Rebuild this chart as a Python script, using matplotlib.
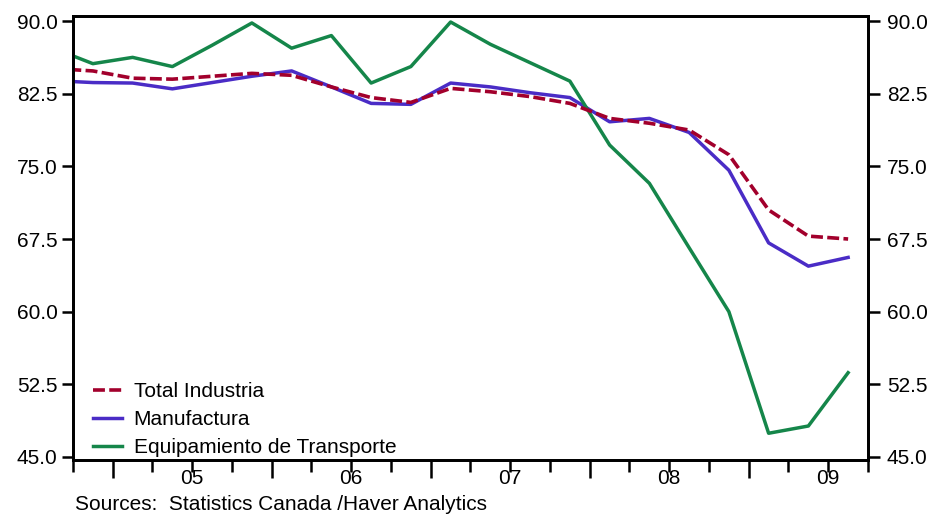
import matplotlib
matplotlib.use("Agg")
import matplotlib.pyplot as plt
from matplotlib.transforms import blended_transform_factory

plt.rcParams["font.family"] = ["Liberation Sans", "DejaVu Sans"]

# trimestres 2004T3 .. 2009T3 (el primero queda recortado por el eje)
trimestres = ["2004Q3", "2004Q4",
              "2005Q1", "2005Q2", "2005Q3", "2005Q4",
              "2006Q1", "2006Q2", "2006Q3", "2006Q4",
              "2007Q1", "2007Q2", "2007Q3", "2007Q4",
              "2008Q1", "2008Q2", "2008Q3", "2008Q4",
              "2009Q1", "2009Q2", "2009Q3"]

total_industria = [85.1, 84.85, 84.1, 84.0, 84.3, 84.6, 84.4, 83.2, 82.1, 81.6,
                   83.05, 82.7, 82.2, 81.5, 79.95, 79.45, 78.75, 76.2, 70.5, 67.8, 67.5]
manufactura = [83.85, 83.65, 83.6, 83.0, 83.65, 84.3, 84.85, 83.2, 81.5, 81.4,
               83.6, 83.2, 82.6, 82.1, 79.6, 79.95, 78.5, 74.6, 67.1, 64.7, 65.6]
equipamiento = [87.2, 85.6, 86.25, 85.3, 87.5, 89.8, 87.2, 88.5, 83.6, 85.3,
                89.9, 87.6, 85.7, 83.8, 77.2, 73.25, 66.6, 60.0, 47.45, 48.2, 53.7]

etiquetas_anio = ["05", "06", "07", "08", "09"]
anios = [2005, 2006, 2007, 2008, 2009]
yticks = [45.0, 52.5, 60.0, 67.5, 75.0, 82.5, 90.0]

x = [int(t[:4]) + (int(t[-1]) - 0.5) / 4 for t in trimestres]

rojo = "#a2002c"
azul = "#4a2cc6"
verde = "#15864a"

fig = plt.figure(figsize=(9.35, 5.15), dpi=100)
ax = fig.add_axes([73 / 935, 1 - 460 / 515, 795 / 935, 444 / 515])

ax.plot(x, total_industria, color=rojo, lw=2.6, dashes=(3.3, 1.2),
        label="Total Industria", zorder=4)
ax.plot(x, manufactura, color=azul, lw=2.5, label="Manufactura", zorder=3)
ax.plot(x, equipamiento, color=verde, lw=2.5, label="Equipamiento de Transporte", zorder=3.5)

ax.set_xlim(2004.75, 2009.75)
ax.set_ylim(44.69, 90.52)

for s in ax.spines.values():
    s.set_linewidth(2.0)

ax.set_yticks(yticks, [f"{v:.1f}" for v in yticks])
ax.tick_params(axis="y", direction="out", length=8, width=1.8, pad=3, labelsize=15)

ax.set_xticks(anios, [""] * len(anios))
quart = [2004.75 + 0.25 * i for i in range(21) if (2004.75 + 0.25 * i) % 1 != 0]
ax.set_xticks(quart, minor=True)
ax.tick_params(axis="x", which="major", direction="out", length=13, width=1.8)
ax.tick_params(axis="x", which="minor", direction="out", length=8.5, width=1.8)

tr = blended_transform_factory(ax.transData, ax.transAxes)
for a, et in zip(anios, etiquetas_anio):
    ax.text(a + 0.5, -0.02, et, transform=tr, ha="center", va="top", fontsize=15)

ax2 = ax.twinx()
ax2.set_ylim(ax.get_ylim())
ax2.set_yticks(yticks, [f"{v:.1f}" for v in yticks])
ax2.tick_params(axis="y", direction="out", length=8.5, width=1.8, pad=5, labelsize=15)
for s in ax2.spines.values():
    s.set_linewidth(2.0)

ax.legend(loc="upper left", bbox_to_anchor=(0.025, 0.176), frameon=False,
          fontsize=15, handlelength=1.4, handletextpad=0.55,
          labelspacing=0.44, borderpad=0, borderaxespad=0)

fig.text(75 / 935, 1 - 505 / 515, "Sources:  Statistics Canada /Haver Analytics",
         fontsize=15, ha="left", va="center")

fig.savefig("out.png", dpi=100)
